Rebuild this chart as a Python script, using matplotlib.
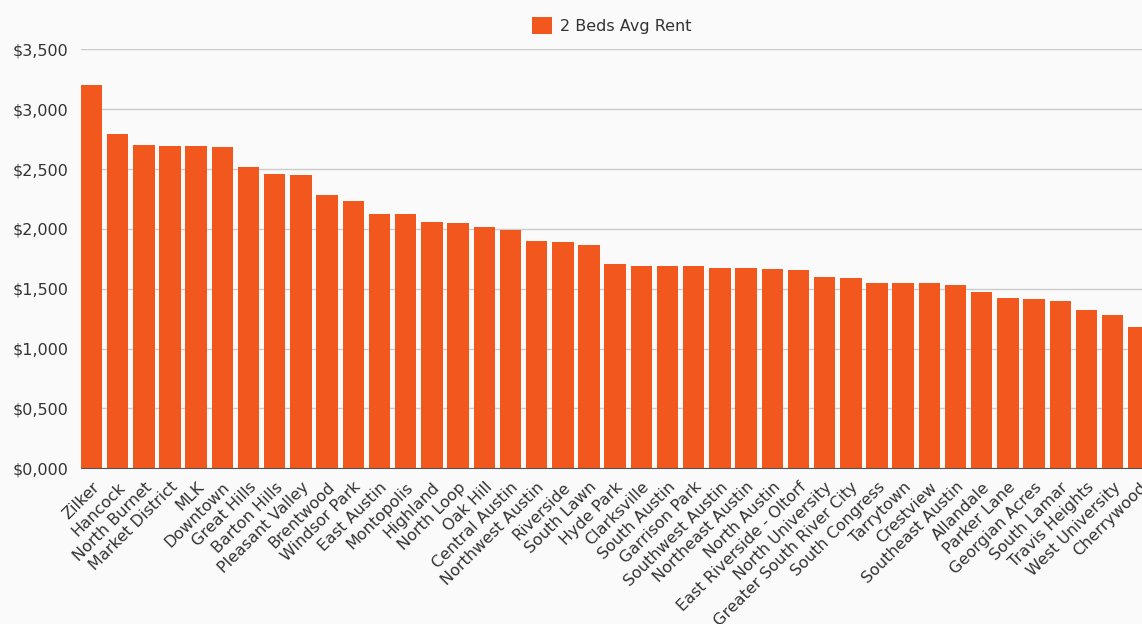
import matplotlib as mpl
import matplotlib.pyplot as plt
from matplotlib.ticker import FuncFormatter

mpl.rcParams['font.family'] = 'DejaVu Sans'
mpl.rcParams['font.size'] = 11.5

neighborhoods = [
    'Zilker', 'Hancock', 'North Burnet', 'Market District', 'MLK', 'Downtown',
    'Great Hills', 'Barton Hills', 'Pleasant Valley', 'Brentwood', 'Windsor Park',
    'East Austin', 'Montopolis', 'Highland', 'North Loop', 'Oak Hill',
    'Central Austin', 'Northwest Austin', 'Riverside', 'South Lawn', 'Hyde Park',
    'Clarksville', 'South Austin', 'Garrison Park', 'Southwest Austin',
    'Northeast Austin', 'North Austin', 'East Riverside - Oltorf',
    'North University', 'Greater South River City', 'South Congress',
    'Tarrytown', 'Crestview', 'Southeast Austin', 'Allandale', 'Parker Lane',
    'Georgian Acres', 'South Lamar', 'Travis Heights', 'West University',
    'Cherrywood',
]

avg_rent_2bed = [
    3200, 2795, 2700, 2695, 2692, 2687, 2517, 2458, 2447, 2285, 2233,
    2122, 2122, 2055, 2047, 2016, 1993, 1896, 1888, 1863, 1704,
    1690, 1690, 1690, 1676, 1676, 1662, 1656, 1598, 1592, 1545,
    1545, 1545, 1534, 1470, 1420, 1412, 1395, 1322, 1278, 1183,
]

bar_color = '#F2581E'
bg_color = '#FAFAFA'
text_color = '#333333'


def money(v, pos):
    v = int(round(v))
    return '${},{:03d}'.format(v // 1000, v % 1000)


fig = plt.figure(figsize=(11.42, 6.24), dpi=100, facecolor=bg_color)
# axes runs past the right edge so the last bar is cut off
ax = fig.add_axes([0.0707, 0.2495, 0.938, 0.6715], facecolor=bg_color)

x = range(len(neighborhoods))
ax.bar(x, avg_rent_2bed, width=0.82, color=bar_color, zorder=3,
       label='2 Beds Avg Rent')

ax.set_xlim(-0.41, 40.5)
ax.set_ylim(0, 3500)
ax.set_yticks(range(0, 3501, 500))
ax.yaxis.set_major_formatter(FuncFormatter(money))
ax.grid(axis='y', color='#CCCCCC', linewidth=1, zorder=0)

for side in ['top', 'right', 'left']:
    ax.spines[side].set_visible(False)
ax.spines['bottom'].set_color('#555555')
ax.spines['bottom'].set_zorder(4)

ax.set_xticks(list(x))
ax.set_xticklabels(neighborhoods, rotation=45, ha='right',
                   rotation_mode='anchor', color=text_color, fontsize=11.5)
ax.tick_params(axis='x', length=0, pad=8)
ax.tick_params(axis='y', length=0, pad=9, labelsize=11.5,
               labelcolor=text_color)

fig.legend(loc='upper center', bbox_to_anchor=(611.5 / 1142, 0.995),
           frameon=False, fontsize=11.5, handlelength=1.25, handleheight=1.25,
           handletextpad=0.5, labelcolor=text_color)

fig.savefig('out.png', dpi=100, facecolor=bg_color)
